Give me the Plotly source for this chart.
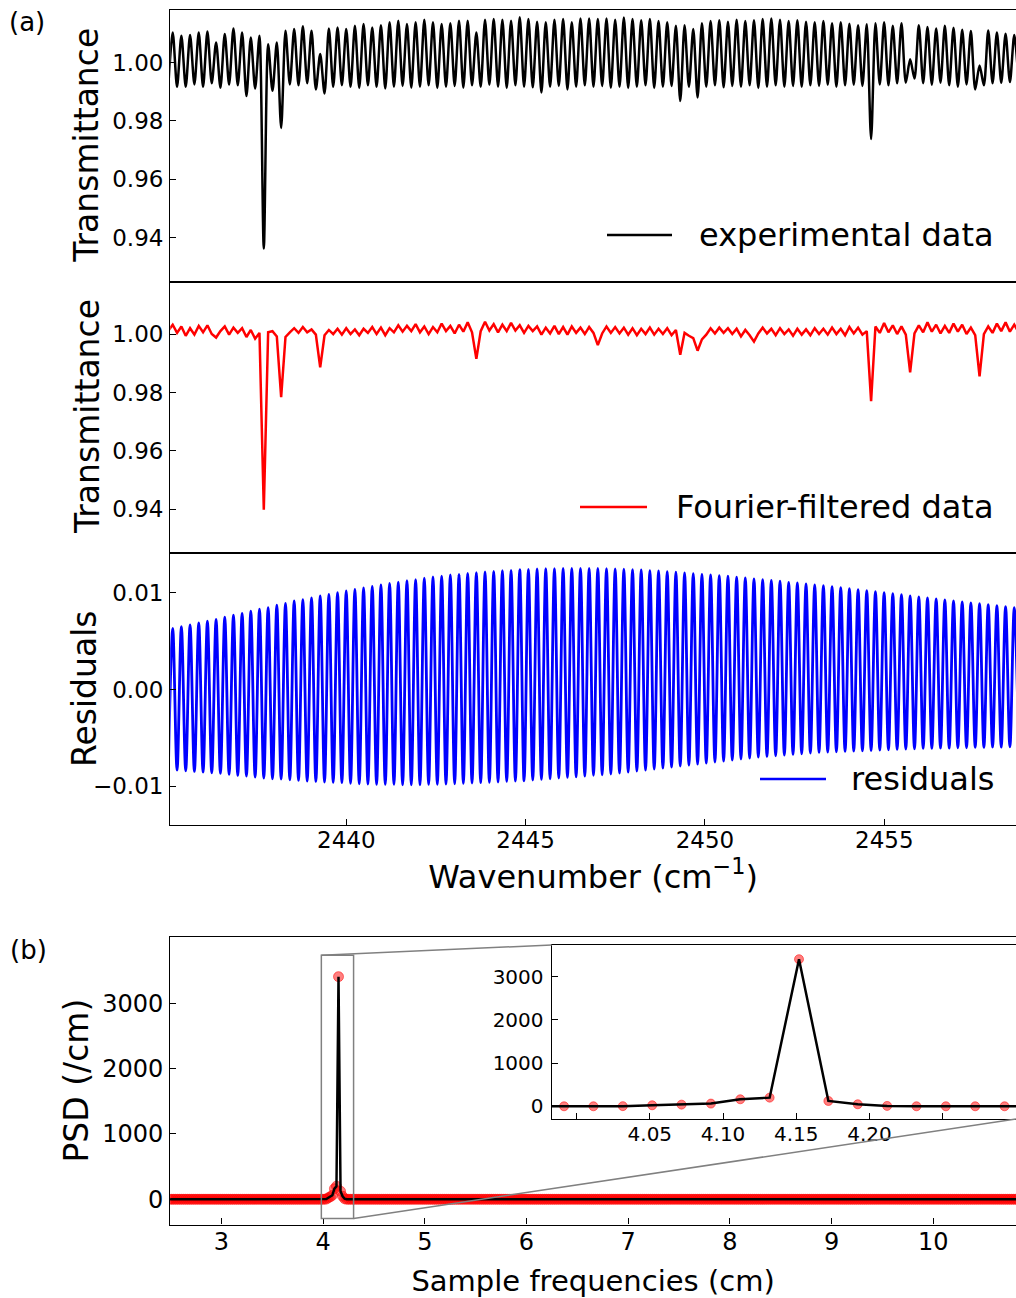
import numpy as np
import plotly.graph_objects as go

# ---------------------------------------------------------------------------
# Panel (a): transmission spectrum around 2447 cm^-1
# The spectrum is sampled at the extrema of the etalon fringe (alternating
# trough / peak), starting with a trough just left of the plotted window.
# ---------------------------------------------------------------------------
fringe_first_trough = 2435.039   # cm^-1
fringe_half_period = 0.12095     # cm^-1

# experimental data: fringe peak values (98) and trough values (99)
exp_peaks = [
    1.0103, 1.0092, 1.0094, 1.0103, 1.0106, 1.0069, 1.0098, 1.0117, 1.0103, 1.0086,
    1.0092, 1.0063, 1.0069, 1.0109, 1.0115, 1.0124, 1.0109, 1.0029, 1.0117, 1.0120,
    1.0115, 1.0126, 1.0132, 1.0120, 1.0128, 1.0138, 1.0143, 1.0132, 1.0138, 1.0147,
    1.0138, 1.0132, 1.0135, 1.0143, 1.0143, 1.0103, 1.0147, 1.0149, 1.0147, 1.0143,
    1.0155, 1.0149, 1.0140, 1.0138, 1.0147, 1.0149, 1.0138, 1.0151, 1.0151, 1.0149,
    1.0151, 1.0147, 1.0154, 1.0149, 1.0145, 1.0149, 1.0142, 1.0138, 1.0126, 1.0128,
    1.0115, 1.0135, 1.0142, 1.0145, 1.0140, 1.0147, 1.0142, 1.0145, 1.0149, 1.0151,
    1.0147, 1.0142, 1.0145, 1.0140, 1.0138, 1.0142, 1.0135, 1.0138, 1.0133, 1.0128,
    1.0131, 1.0135, 1.0138, 1.0126, 1.0135, 1.0011, 1.0128, 1.0122, 1.0117, 1.0126,
    1.0119, 1.0112, 1.0108, 0.9990, 1.0110, 1.0103, 1.0099, 1.0094,
]
exp_troughs = [
    0.9922,
    0.9917, 0.9917, 0.9925, 0.9917, 0.9929, 0.9914, 0.9925, 0.9922, 0.9885, 0.9911,
    0.9363, 0.9903, 0.9776, 0.9925, 0.9922, 0.9929, 0.9908, 0.9894, 0.9917, 0.9922,
    0.9917, 0.9913, 0.9922, 0.9917, 0.9911, 0.9917, 0.9920, 0.9914, 0.9917, 0.9922,
    0.9913, 0.9917, 0.9920, 0.9914, 0.9922, 0.9917, 0.9924, 0.9917, 0.9913, 0.9922,
    0.9917, 0.9915, 0.9897, 0.9917, 0.9920, 0.9908, 0.9917, 0.9922, 0.9917, 0.9920,
    0.9914, 0.9917, 0.9913, 0.9917, 0.9922, 0.9913, 0.9917, 0.9920, 0.9868, 0.9917,
    0.9880, 0.9917, 0.9922, 0.9915, 0.9920, 0.9917, 0.9922, 0.9913, 0.9917, 0.9922,
    0.9917, 0.9920, 0.9917, 0.9922, 0.9920, 0.9924, 0.9917, 0.9922, 0.9924, 0.9920,
    0.9738, 0.9925, 0.9922, 0.9929, 0.9931, 0.9945, 0.9929, 0.9924, 0.9931, 0.9922,
    0.9917, 0.9925, 0.9908, 0.9922, 0.9929, 0.9931, 0.9933, 0.9933,
]

# Fourier-filtered transmittance at the same sample points (197)
filtered = [
    1.0012, 1.0032, 1.0004, 1.0026, 0.9994, 1.0020, 0.9998, 1.0028, 1.0006, 1.0030,
    1.0000, 0.9988, 1.0010, 1.0026, 0.9998, 1.0022, 1.0004, 1.0020, 0.9990, 1.0014,
    0.9984, 1.0004, 0.9398, 1.0006, 1.0010, 0.9992, 0.9784, 0.9990, 1.0006, 1.0020,
    1.0004, 1.0024, 1.0006, 1.0016, 0.9998, 0.9886, 0.9996, 1.0014, 1.0000, 1.0018,
    0.9998, 1.0020, 1.0000, 1.0016, 0.9996, 1.0018, 1.0004, 1.0024, 1.0000, 1.0022,
    0.9996, 1.0020, 1.0006, 1.0030, 1.0008, 1.0028, 1.0010, 1.0034, 1.0006, 1.0026,
    1.0000, 1.0024, 1.0006, 1.0036, 1.0010, 1.0028, 1.0002, 1.0032, 1.0008, 1.0040,
    1.0006, 0.9915, 1.0010, 1.0042, 1.0012, 1.0034, 1.0006, 1.0032, 1.0010, 1.0038,
    1.0012, 1.0030, 1.0004, 1.0028, 1.0010, 1.0026, 0.9998, 1.0022, 1.0002, 1.0028,
    1.0000, 1.0024, 0.9998, 1.0026, 1.0004, 1.0022, 1.0000, 1.0024, 1.0004, 0.9962,
    1.0002, 1.0026, 1.0004, 1.0024, 1.0002, 1.0022, 0.9998, 1.0020, 0.9996, 1.0018,
    1.0000, 1.0022, 0.9998, 1.0018, 1.0000, 1.0020, 0.9996, 1.0014, 0.9929, 1.0004,
    0.9994, 0.9986, 0.9943, 0.9982, 0.9998, 1.0020, 1.0002, 1.0022, 1.0004, 1.0020,
    1.0000, 1.0018, 0.9992, 1.0014, 0.9996, 0.9974, 1.0002, 1.0022, 1.0002, 1.0018,
    0.9996, 1.0020, 1.0000, 1.0016, 0.9994, 1.0018, 0.9998, 1.0016, 0.9996, 1.0020,
    1.0000, 1.0018, 0.9998, 1.0022, 1.0000, 1.0018, 0.9996, 1.0024, 1.0002, 1.0022,
    0.9998, 1.0010, 0.9770, 1.0026, 1.0004, 1.0038, 1.0006, 1.0030, 1.0000, 1.0026,
    0.9998, 0.9869, 1.0002, 1.0030, 1.0006, 1.0040, 1.0008, 1.0032, 1.0002, 1.0028,
    1.0004, 1.0036, 1.0008, 1.0032, 1.0000, 1.0022, 0.9996, 0.9855, 1.0000, 1.0026,
    1.0004, 1.0036, 1.0010, 1.0040, 1.0008, 1.0032, 1.0006,
]

# residual fringe: peak values (98) and trough values (99)
res_peaks = [
    0.00630, 0.00650, 0.00667, 0.00687, 0.00705, 0.00725, 0.00746, 0.00767, 0.00787, 0.00808,
    0.00829, 0.00846, 0.00870, 0.00890, 0.00915, 0.00929, 0.00946, 0.00966, 0.00983, 0.01000,
    0.01018, 0.01035, 0.01049, 0.01066, 0.01080, 0.01097, 0.01110, 0.01125, 0.01135, 0.01149,
    0.01162, 0.01172, 0.01183, 0.01190, 0.01200, 0.01207, 0.01214, 0.01220, 0.01228, 0.01231,
    0.01238, 0.01241, 0.01245, 0.01249, 0.01249, 0.01252, 0.01252, 0.01252, 0.01252, 0.01252,
    0.01248, 0.01245, 0.01242, 0.01238, 0.01235, 0.01228, 0.01224, 0.01218, 0.01211, 0.01204,
    0.01197, 0.01190, 0.01183, 0.01176, 0.01170, 0.01160, 0.01152, 0.01142, 0.01135, 0.01128,
    0.01118, 0.01107, 0.01100, 0.01090, 0.01080, 0.01073, 0.01063, 0.01052, 0.01042, 0.01032,
    0.01021, 0.01011, 0.01001, 0.00990, 0.00980, 0.00966, 0.00956, 0.00945, 0.00935, 0.00925,
    0.00914, 0.00904, 0.00894, 0.00887, 0.00876, 0.00866, 0.00856, 0.00846,
]
res_troughs = [
    -0.00830,
    -0.00833, -0.00840, -0.00847, -0.00854, -0.00861, -0.00867, -0.00877, -0.00888, -0.00895, -0.00905,
    -0.00915, -0.00922, -0.00926, -0.00933, -0.00940, -0.00947, -0.00950, -0.00957, -0.00960, -0.00963,
    -0.00970, -0.00974, -0.00977, -0.00981, -0.00981, -0.00981, -0.00984, -0.00984, -0.00984, -0.00981,
    -0.00981, -0.00977, -0.00974, -0.00970, -0.00967, -0.00963, -0.00960, -0.00957, -0.00950, -0.00947,
    -0.00943, -0.00936, -0.00929, -0.00922, -0.00915, -0.00909, -0.00902, -0.00895, -0.00888, -0.00881,
    -0.00874, -0.00864, -0.00854, -0.00843, -0.00833, -0.00823, -0.00812, -0.00802, -0.00791, -0.00781,
    -0.00771, -0.00761, -0.00750, -0.00740, -0.00730, -0.00719, -0.00709, -0.00699, -0.00692, -0.00685,
    -0.00678, -0.00671, -0.00664, -0.00657, -0.00650, -0.00647, -0.00644, -0.00640, -0.00637, -0.00633,
    -0.00630, -0.00626, -0.00623, -0.00619, -0.00616, -0.00613, -0.00609, -0.00609, -0.00606, -0.00606,
    -0.00602, -0.00602, -0.00599, -0.00599, -0.00595, -0.00595, -0.00592, -0.00592,
]

# ---------------------------------------------------------------------------
# Panel (b): power spectral density of the experimental transmittance
# ---------------------------------------------------------------------------
psd_f0 = 2.4877          # first frequency bin (cm)
psd_df = 0.02005         # bin width (cm)
psd_nbins = 417
psd_peak_first_bin = 75  # bins around the fringe peak, others are ~0
psd_peak_values = [0, 0, 3, 23, 38, 62, 162, 200, 3408, 123, 46, 8]

# ---------------------------------------------------------------------------
# assemble series
# ---------------------------------------------------------------------------
n_pts = len(filtered)
wn = fringe_first_trough + fringe_half_period * np.arange(n_pts)


def interleave(troughs, peaks):
    out = np.empty(len(troughs) + len(peaks))
    out[0::2] = troughs
    out[1::2] = peaks
    return out


experimental = interleave(exp_troughs, exp_peaks)
residuals = interleave(res_troughs, res_peaks)
filtered = np.array(filtered)

psd_freq = np.round(psd_f0 + psd_df * np.arange(psd_nbins), 5)
psd = np.zeros(psd_nbins)
psd[psd_peak_first_bin:psd_peak_first_bin + len(psd_peak_values)] = psd_peak_values

# ---------------------------------------------------------------------------
# layout geometry (pixels of a 1016 x 1298 page)
# ---------------------------------------------------------------------------
W, H = 1016, 1298
FONT = "DejaVu Sans"


def fx(p):
    return p / W


def fy(p):
    return 1 - p / H


X_DOM = [fx(170.2), 1.0]
DOM_A1 = [fy(281.5), fy(10)]
DOM_A2 = [fy(553), fy(281.5)]
DOM_A3 = [fy(825), fy(553)]
DOM_B = [fy(1224.5), fy(936.8)]
INSET_X = [fx(551.7), 1.0]
INSET_Y = [fy(1119), fy(945)]

WN_RANGE = [2435.09, 2458.673]
T_RANGE = [0.925, 1.018]
RES_RANGE = [-0.0140, 0.0141]
F_RANGE = [2.497, 10.813]
PSD_RANGE = [-386, 4018]
INSET_F_RANGE = [3.983, 4.300]
INSET_P_RANGE = [-295, 3737]


def tfont(size):
    return dict(family=FONT, size=size, color="black")


axis_style = dict(showline=True, linecolor="black", linewidth=1.3,
                  ticks="inside", ticklen=6, tickwidth=1.3, tickcolor="black",
                  showgrid=False, zeroline=False, tickfont=tfont(23))

fig = go.Figure()

fig.add_trace(go.Scatter(x=wn, y=experimental, mode="lines", name="experimental data",
                         line=dict(color="black", width=2.5, shape="spline", smoothing=0.8),
                         xaxis="x", yaxis="y"))
fig.add_trace(go.Scatter(x=wn, y=filtered, mode="lines", name="Fourier-filtered data",
                         line=dict(color="#ff0000", width=2.5), xaxis="x2", yaxis="y2"))
fig.add_trace(go.Scatter(x=wn, y=residuals, mode="lines", name="residuals",
                         line=dict(color="#0000ff", width=2.8, shape="spline"),
                         xaxis="x3", yaxis="y3"))

psd_marker = dict(color="rgba(255,0,0,0.5)", line=dict(color="rgba(255,0,0,0.5)", width=1))
fig.add_trace(go.Scatter(x=psd_freq, y=psd, mode="markers",
                         marker=dict(size=10, **psd_marker), xaxis="x4", yaxis="y4"))
fig.add_trace(go.Scatter(x=psd_freq, y=psd, mode="lines",
                         line=dict(color="black", width=2.5), xaxis="x4", yaxis="y4"))
fig.add_trace(go.Scatter(x=psd_freq, y=psd, mode="markers",
                         marker=dict(size=9, **psd_marker), xaxis="x5", yaxis="y5"))
fig.add_trace(go.Scatter(x=psd_freq, y=psd, mode="lines",
                         line=dict(color="black", width=2.5), xaxis="x5", yaxis="y5"))

wn_ticks = [2440, 2445, 2450, 2455]
t_ticks = [0.94, 0.96, 0.98, 1.00]
fig.update_layout(
    width=W, height=H, margin=dict(l=0, r=0, t=0, b=0),
    paper_bgcolor="white", plot_bgcolor="white", showlegend=False,
    font=dict(family=FONT, color="black"),
    xaxis=dict(axis_style, domain=X_DOM, anchor="y", range=WN_RANGE, mirror=True,
               ticks="", showticklabels=False),
    xaxis2=dict(axis_style, domain=X_DOM, anchor="y2", range=WN_RANGE, mirror=True,
                ticks="", showticklabels=False),
    xaxis3=dict(axis_style, domain=X_DOM, anchor="y3", range=WN_RANGE, mirror=True,
                tickvals=wn_ticks, ticklabelstandoff=-6,
                title=dict(text="Wavenumber (cm<sup>\u22121</sup>)",
                           font=tfont(32), standoff=13)),
    yaxis=dict(axis_style, domain=DOM_A1, anchor="x", range=T_RANGE,
               tickvals=t_ticks, tickformat=".2f", ticklabelstandoff=1),
    yaxis2=dict(axis_style, domain=DOM_A2, anchor="x2", range=T_RANGE,
                tickvals=t_ticks, tickformat=".2f", ticklabelstandoff=1),
    yaxis3=dict(axis_style, domain=DOM_A3, anchor="x3", range=RES_RANGE,
                tickvals=[-0.01, 0.0, 0.01], tickformat=".2f", ticklabelstandoff=1),
    xaxis4=dict(axis_style, domain=X_DOM, anchor="y4", range=F_RANGE, mirror=True,
                tickvals=list(range(3, 11)), tickfont=tfont(24), ticklabelstandoff=-4,
                title=dict(text="Sample frequencies (cm)", font=tfont(29), standoff=17)),
    yaxis4=dict(axis_style, domain=DOM_B, anchor="x4", range=PSD_RANGE,
                tickvals=[0, 1000, 2000, 3000], tickfont=tfont(24), ticklabelstandoff=1),
    xaxis5=dict(axis_style, domain=INSET_X, anchor="y5", range=INSET_F_RANGE, mirror=True,
                tickvals=[4.05, 4.10, 4.15, 4.20], ticktext=["4.05", "4.10", "4.15", "4.20"],
                tickfont=tfont(20), ticklabelstandoff=-3,
                minor=dict(tickmode="array", tickvals=[4.00, 4.25], ticks="inside",
                           ticklen=6, tickwidth=1.3, tickcolor="black")),
    yaxis5=dict(axis_style, domain=INSET_Y, anchor="x5", range=INSET_P_RANGE,
                tickvals=[0, 1000, 2000, 3000], tickfont=tfont(20), ticklabelstandoff=3),
)


def to_paper(v, rng, dom):
    return dom[0] + (v - rng[0]) / (rng[1] - rng[0]) * (dom[1] - dom[0])


shapes = []
# zoom box on the main PSD axes and the lines joining it to the inset
gray = dict(color="#808080", width=1.5)
shapes.append(dict(type="rect", xref="x4", yref="y4",
                   x0=INSET_F_RANGE[0], x1=INSET_F_RANGE[1],
                   y0=INSET_P_RANGE[0], y1=INSET_P_RANGE[1], line=gray, layer="above"))
shapes.append(dict(type="line", xref="paper", yref="paper",
                   x0=to_paper(INSET_F_RANGE[0], F_RANGE, X_DOM),
                   y0=to_paper(INSET_P_RANGE[1], PSD_RANGE, DOM_B),
                   x1=INSET_X[0], y1=INSET_Y[1], line=gray))
shapes.append(dict(type="line", xref="paper", yref="paper",
                   x0=to_paper(INSET_F_RANGE[1], F_RANGE, X_DOM),
                   y0=to_paper(INSET_P_RANGE[0], PSD_RANGE, DOM_B),
                   x1=INSET_X[1], y1=INSET_Y[0], line=gray))

annotations = []
# legend entries of the three spectrum panels
legend_items = [
    ("experimental data", "black", 607, 672, 235),
    ("Fourier-filtered data", "#ff0000", 580, 647, 507),
    ("residuals", "#0000ff", 760, 826, 779),
]
for label, color, lx0, lx1, ly in legend_items:
    shapes.append(dict(type="line", xref="paper", yref="paper",
                       x0=fx(lx0), x1=fx(lx1), y0=fy(ly), y1=fy(ly),
                       line=dict(color=color, width=2.5)))
    annotations.append(dict(text=label, xref="paper", yref="paper", x=fx(996), y=fy(ly),
                            xanchor="right", yanchor="middle", showarrow=False,
                            font=tfont(32)))

# y axis titles
for text, xp, yp in [("Transmittance", 87, 145.75), ("Transmittance", 87, 417),
                     ("Residuals", 85, 689), ("PSD (/cm)", 77, 1080.6)]:
    annotations.append(dict(text=text, xref="paper", yref="paper", x=fx(xp), y=fy(yp),
                            xanchor="center", yanchor="middle", textangle=-90,
                            showarrow=False, font=tfont(33)))

# panel letters
for text, xp, yp in [("(a)", 27, 22), ("(b)", 28, 950)]:
    annotations.append(dict(text=text, xref="paper", yref="paper", x=fx(xp), y=fy(yp),
                            xanchor="center", yanchor="middle", showarrow=False,
                            font=tfont(26)))

fig.update_layout(shapes=shapes, annotations=annotations)
fig.write_html("out.html")
